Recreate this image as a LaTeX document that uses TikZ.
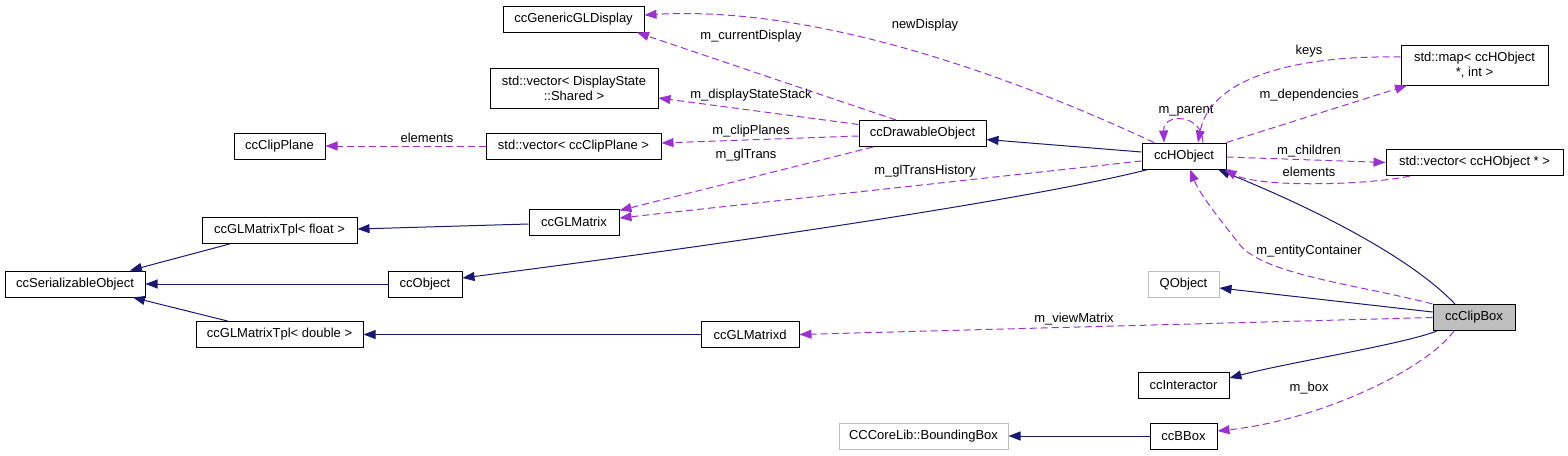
\documentclass[tikz,border=0pt]{standalone}
\usepackage{fontspec}
\setmainfont{Liberation Sans}
\usetikzlibrary{arrows.meta,calc}
\definecolor{inhblue}{HTML}{191970}
\definecolor{usepurple}{HTML}{9A32CD}
\definecolor{boxgray}{HTML}{BFBFBF}
\begin{document}
\begin{tikzpicture}[x=1pt,y=-1pt,
  box/.style={draw=black, line width=1pt, fill=white, inner sep=0pt, font=\fontsize{13}{15}\selectfont, align=center, minimum height=26pt},
  ghost/.style={box, draw=boxgray},
  inh/.style={draw=inhblue, line width=1pt, -{Triangle[length=12pt,width=9pt]}},
  use/.style={draw=usepurple, line width=1pt, dash pattern=on 7pt off 4pt, -{Triangle[length=12pt,width=9pt]}},
  lbl/.style={font=\fontsize{13}{15}\selectfont, inner sep=0pt}]
\useasboundingbox (0,0) rectangle (1568,455);
% nodes
\node[box, minimum width=141pt] (gen) at (573.5,19) {ccGenericGLDisplay};
\node[box, minimum width=168pt, minimum height=40pt] (dss) at (574,88) {std::vector< DisplayState\\::Shared >};
\node[box, minimum width=175pt] (vcp) at (573.5,146) {std::vector< ccClipPlane >};
\node[box, minimum width=91pt] (clip) at (279.5,146) {ccClipPlane};
\node[box, minimum width=127pt] (dro) at (922.5,133.5) {ccDrawableObject};
\node[box, minimum width=90pt] (glm) at (574,222) {ccGLMatrix};
\node[box, minimum width=155pt] (tplf) at (279.5,230.5) {ccGLMatrixTpl< float >};
\node[box, minimum width=140pt] (ser) at (75,284) {ccSerializableObject};
\node[box, minimum width=74pt] (obj) at (425,284) {ccObject};
\node[box, minimum width=167pt] (tpld) at (279.5,334.5) {ccGLMatrixTpl< double >};
\node[box, minimum width=98pt] (glmd) at (750,334.5) {ccGLMatrixd};
\node[box, minimum width=84pt] (hobj) at (1184,156) {ccHObject};
\node[box, minimum width=147pt, minimum height=40pt] (map) at (1474.5,65) {std::map< ccHObject\\ *, int >};
\node[box, minimum width=177pt] (vho) at (1474.5,162.5) {std::vector< ccHObject * >};
\node[ghost, minimum width=71pt] (qobj) at (1183.5,284) {QObject};
\node[box, minimum width=82pt, fill=boxgray] (cb) at (1474,317.5) {ccClipBox};
\node[box, minimum width=91pt] (inter) at (1183.5,385.5) {ccInteractor};
\node[ghost, minimum width=169pt] (bb) at (923.5,436) {CCCoreLib::BoundingBox};
\node[box, minimum width=67pt] (bbox) at (1183.5,436) {ccBBox};
% inheritance
\draw[inh] ([yshift=4pt]hobj.west) -- ([yshift=-6pt]dro.east);
\draw[inh] ([yshift=-2pt]glm.west) -- ([yshift=1.5pt]tplf.east);
\draw[inh] ([xshift=-50pt]tplf.south) -- ([xshift=55pt]ser.north);
\draw[inh] (obj.west) -- (ser.east);
\draw[inh] ([xshift=-52pt]tpld.north) -- ([xshift=58pt]ser.south);
\draw[inh] ([xshift=-36pt]hobj.south) .. controls (1028,200) and (712,246) .. ([yshift=6pt]obj.east);
\draw[inh] (glmd.west) -- (tpld.east);
\draw[inh] ([xshift=-19pt]cb.north) .. controls (1415,262) and (1330,215) .. ([xshift=34pt]hobj.south);
\draw[inh] ([yshift=5.5pt]cb.west) -- ([yshift=-4pt]qobj.east);
\draw[inh] ([xshift=-37pt]cb.south) .. controls (1400,345) and (1290,362) .. ([yshift=7.5pt]inter.east);
\draw[inh] (bbox.west) -- (bb.east);
% usage
\draw[use] ([xshift=-30pt]hobj.north) .. controls (1020,80) and (820,5) .. ([yshift=4pt]gen.east);
\node[lbl] (lnd) at (925,25) {newDisplay};
\draw[use] ([xshift=-26.5pt]dro.north) -- ([xshift=63.5pt]gen.south);
\node[lbl] (lcd) at (751,36) {m\_currentDisplay};
\draw[use] ([yshift=9pt]dro.west) -- ([yshift=-10pt]dss.east);
\node[lbl] (ldss) at (751,95) {m\_displayStateStack};
\draw[use] ([yshift=-2.5pt]dro.west) -- ([yshift=3pt]vcp.east);
\node[lbl] (lcp) at (751,131) {m\_clipPlanes};
\draw[use] ([xshift=-49.5pt]dro.south) -- ([yshift=-2pt]glm.north east);
\node[lbl] (lgt) at (746,155) {m\_glTrans};
\draw[use] ([yshift=-5pt]hobj.west) -- ([yshift=4pt]glm.east);
\node[lbl] (lgth) at (925,171) {m\_glTransHistory};
\draw[use] (vcp.west) -- (clip.east);
\node[lbl] (lel1) at (427,138) {elements};
\draw[use] ([xshift=19pt]hobj.north) .. controls (1203,114) and (1163,112) .. ([xshift=-20pt]hobj.north);
\node[lbl] (lpar) at (1186,111) {m\_parent};
\draw[use] (hobj.north east) -- ([xshift=-67.5pt]map.south);
\node[lbl] (ldep) at (1309,95) {m\_dependencies};
\draw[use] ([yshift=8pt]map.west) .. controls (1290,55) and (1210,80) .. ([xshift=14pt]hobj.north);
\node[lbl] (lkeys) at (1309,51) {keys};
\draw[use] ([yshift=-1pt]hobj.east) -- (vho.west);
\node[lbl] (lch) at (1309,151) {m\_children};
\draw[use] ([xshift=-64.5pt]vho.south) .. controls (1370,185) and (1260,188) .. ([xshift=-2pt]hobj.south east);
\node[lbl] (lel2) at (1309,172) {elements};
\draw[use] (cb.north west) .. controls (1360,285) and (1265,275) .. (1240,245) .. controls (1222,222) and (1200,195) .. ([xshift=6pt]hobj.south);
\node[lbl] (lec) at (1309,251) {m\_entityContainer};
\draw[use] (cb.west) -- (glmd.east);
\node[lbl] (lvm) at (1074,319) {m\_viewMatrix};
\draw[use] ([xshift=-20pt]cb.south) .. controls (1425,370) and (1320,420) .. ([yshift=5pt]bbox.east);
\node[lbl] (lbox) at (1309,388) {m\_box};
\end{tikzpicture}
\end{document}
